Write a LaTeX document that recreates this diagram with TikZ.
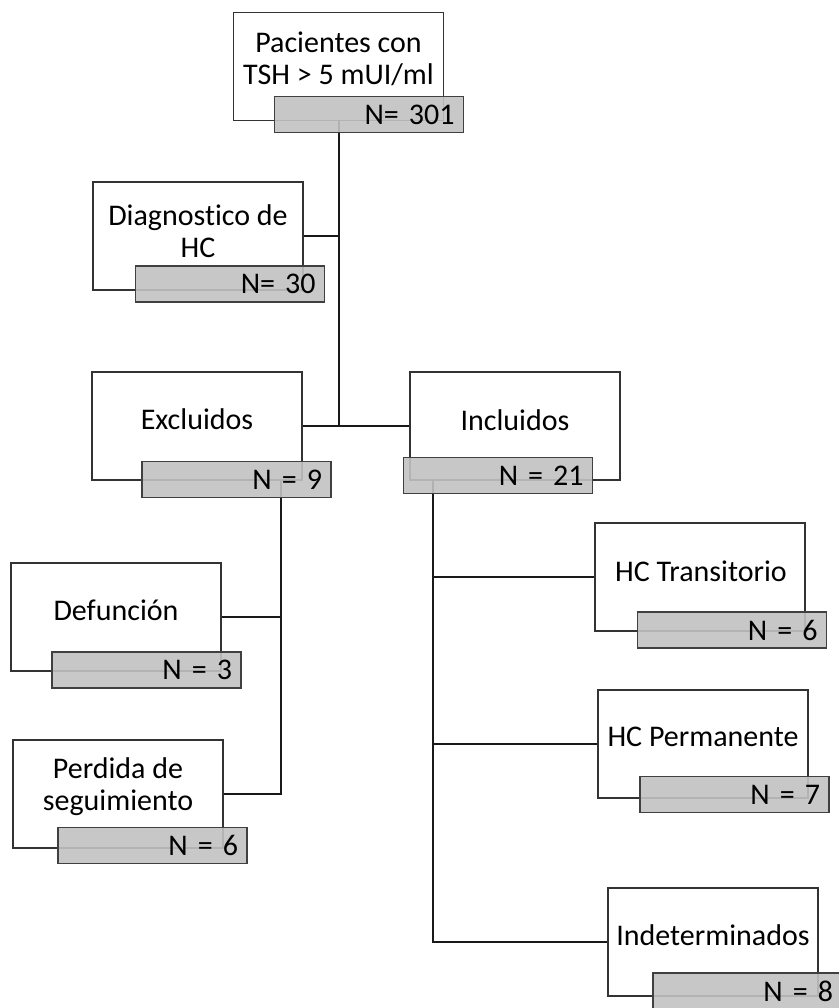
\documentclass[tikz,border=0pt]{standalone}
\usepackage{fontspec}
\setmainfont{Carlito}[Ligatures=NoCommon]
\usetikzlibrary{backgrounds}

\begin{document}
\begin{tikzpicture}[x=0.5pt,y=-0.5pt,
  wbox/.style={draw=black!80, line width=0.6pt, fill=white, minimum width=105pt, minimum height=54pt, inner sep=0pt},
  nbox/.style={draw=black!75, line width=0.7pt, fill=black!24, fill opacity=0.9, text opacity=1,
    minimum height=18pt, text width=85.5pt, inner xsep=4.5pt, inner ysep=0pt, align=right,
    font=\fontsize{15pt}{16pt}\selectfont},
  txt/.style={align=center, inner sep=0pt, font=\fontsize{15pt}{16pt}\selectfont},
  link/.style={line width=1pt, black!90}]
\useasboundingbox (0,0) rectangle (839,1008);
\clip (0,0) rectangle (839,1008);
%Pacientes
\node[wbox] (pac) at (338.5,66.5) {};
\node[txt] (pac-t) at (338.5,59) {Pacientes con\\TSH > 5 mUI/ml};
\node[nbox] (pac-n) at (369,114.5) {N= 301};
%Diagnostico
\node[wbox] (diag) at (198,236) {};
\node[txt] (diag-t) at (198,231) {Diagnostico de\\HC};
\node[nbox] (diag-n) at (230,284) {N= 30};
%Excluidos
\node[wbox] (excl) at (197,426) {};
\node[txt] (excl-t) at (197,419) {Excluidos};
\node[nbox] (excl-n) at (236.5,479.5) {N = 9};
%Incluidos
\node[wbox] (incl) at (515,426) {};
\node[txt] (incl-t) at (515,420) {Incluidos};
\node[nbox] (incl-n) at (498,475.5) {N = 21};
%Defuncion
\node[wbox] (defu) at (116,617) {};
\node[txt] (defu-t) at (116,610) {Defunción};
\node[nbox] (defu-n) at (146.5,670) {N = 3};
%Perdida
\node[wbox] (perd) at (118,794) {};
\node[txt] (perd-t) at (118,787) {Perdida de\\seguimiento};
\node[nbox] (perd-n) at (152.5,845.5) {N = 6};
%Transitorio
\node[wbox] (trans) at (700,577) {};
\node[txt] (trans-t) at (701,571) {HC Transitorio};
\node[nbox] (trans-n) at (732,630) {N = 6};
%Permanente
\node[wbox] (perm) at (703,744) {};
\node[txt] (perm-t) at (703,737) {HC Permanente};
\node[nbox] (perm-n) at (734.5,794.5) {N = 7};
%Indeterminados
\node[wbox] (indet) at (713,942) {};
\node[txt] (indet-t) at (713,935) {Indeterminados};
\node[nbox] (indet-n) at (747.5,991) {N = 8};
%Branch lines
\coordinate (exclx) at (281,0);
\coordinate (inclx) at (433,0);
\begin{scope}[on background layer]
\draw[link] (pac.south) -- (pac.south |- excl.east);
\draw[link] (diag.east) -- (diag.east -| pac.south);
\draw[link] (excl.east) -- (incl.west);
\draw[link] (exclx |- excl.south) |- (perd.east);
\draw[link] (defu.east) -- (defu.east -| exclx);
\draw[link] (inclx |- incl.south) |- (indet.west);
\draw[link] (trans.west) -- (trans.west -| inclx);
\draw[link] (perm.west) -- (perm.west -| inclx);
\end{scope}
\end{tikzpicture}
\end{document}
